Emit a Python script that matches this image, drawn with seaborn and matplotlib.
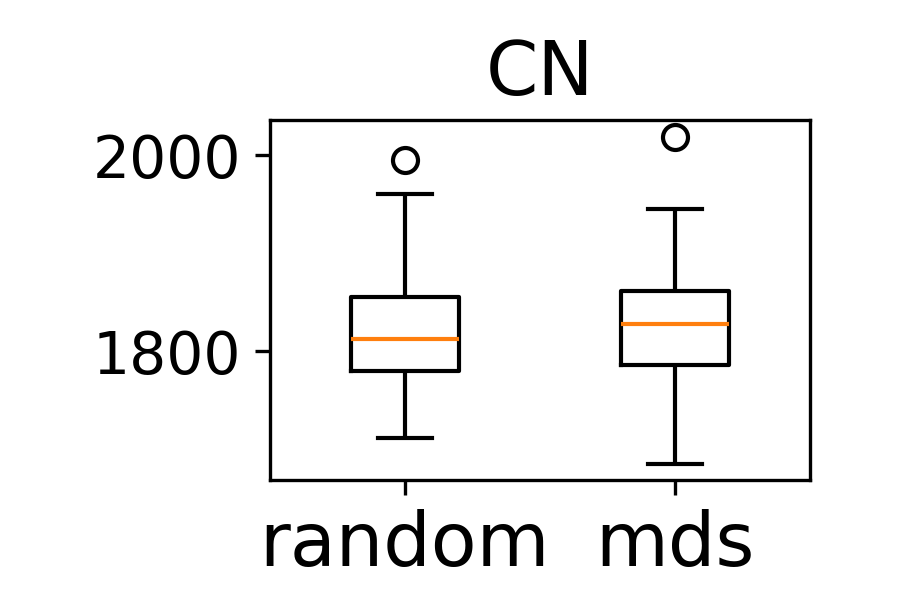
import pandas as pd
import seaborn as sns
from matplotlib import pyplot as plt

# values (21 samples per method)
random_vals = [1712, 1740, 1755, 1765, 1772, 1780, 1790, 1798, 1805, 1810, 1813,
               1819, 1827, 1839, 1849, 1856, 1872, 1890, 1915, 1961, 1995]
mds_vals = [1685, 1722, 1748, 1763, 1776, 1786, 1795, 1806, 1814, 1822, 1828,
            1834, 1840, 1847, 1855, 1862, 1875, 1890, 1912, 1945, 2019]
methods = ['random', 'mds']

df = pd.DataFrame({
    'method': ['random'] * len(random_vals) + ['mds'] * len(mds_vals),
    'CN': random_vals + mds_vals,
})

plt.rcParams['font.family'] = ['DejaVu Sans']
fig, ax = plt.subplots(figsize=(3, 2), dpi=300)
sns.boxplot(data=df, x='method', y='CN', order=methods, ax=ax, width=0.4,
            fill=False, color='black', linewidth=1,
            medianprops={'color': '#ff7f0e'},
            flierprops={'marker': 'o', 'markersize': 6, 'markerfacecolor': 'none',
                        'markeredgecolor': 'black'})
ax.set_xlim(-0.5, 1.5)
ax.set_ylim(1669, 2036)
ax.set_yticks([1800, 2000])
ax.set_xlabel('')
ax.set_ylabel('')
ax.set_title('CN', fontsize=18)
ax.tick_params(axis='x', labelsize=18)
ax.tick_params(axis='y', labelsize=14)
plt.subplots_adjust(left=0.3, right=0.9, top=0.8, bottom=0.2)
plt.savefig('out.png', dpi=300)
